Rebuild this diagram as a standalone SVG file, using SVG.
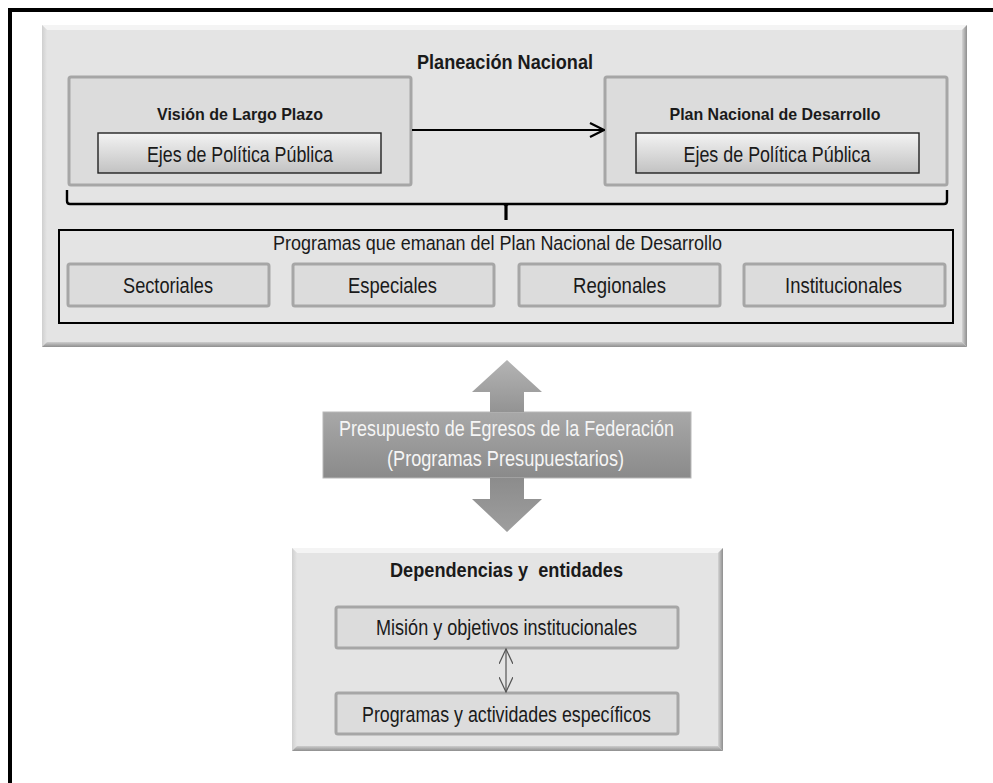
<svg xmlns="http://www.w3.org/2000/svg" width="993" height="783" viewBox="0 0 993 783">
  <defs>
    <linearGradient id="bevelR" x1="0" y1="0" x2="1" y2="0">
      <stop offset="0" stop-color="#d4d4d4"/>
      <stop offset="1" stop-color="#8e8e8e"/>
    </linearGradient>
    <linearGradient id="bevelB" x1="0" y1="0" x2="0" y2="1">
      <stop offset="0" stop-color="#cdcdcd"/>
      <stop offset="1" stop-color="#8e8e8e"/>
    </linearGradient>
    <linearGradient id="bevelL" x1="0" y1="0" x2="1" y2="0">
      <stop offset="0" stop-color="#cfcfcf"/>
      <stop offset="1" stop-color="#e4e4e4"/>
    </linearGradient>
    <linearGradient id="ejes" x1="0" y1="0" x2="0" y2="1">
      <stop offset="0" stop-color="#f3f3f3"/>
      <stop offset="1" stop-color="#c2c2c2"/>
    </linearGradient>
    <linearGradient id="blockUp" x1="0" y1="0" x2="0" y2="1">
      <stop offset="0" stop-color="#b4b4b4"/>
      <stop offset="1" stop-color="#939393"/>
    </linearGradient>
    <linearGradient id="blockDown" x1="0" y1="0" x2="0" y2="1">
      <stop offset="0" stop-color="#8c8c8c"/>
      <stop offset="1" stop-color="#9e9e9e"/>
    </linearGradient>
    <linearGradient id="budget" x1="0" y1="0" x2="0" y2="1">
      <stop offset="0" stop-color="#a8a8a8"/>
      <stop offset="1" stop-color="#8a8a8a"/>
    </linearGradient>
    <marker id="openHead" viewBox="0 0 16 16" refX="15" refY="8" markerWidth="16" markerHeight="16" markerUnits="userSpaceOnUse" orient="auto-start-reverse">
      <path d="M1,1 L15,8 L1,15" fill="none" stroke="#000" stroke-width="2.2" stroke-linejoin="miter"/>
    </marker>
    <marker id="thinHead" viewBox="0 0 16 14" refX="15" refY="7" markerWidth="16" markerHeight="14" markerUnits="userSpaceOnUse" orient="auto-start-reverse">
      <path d="M0,0 L15,7 L0,14" fill="none" stroke="#555" stroke-width="1.2"/>
    </marker>
  </defs>
  <style>
    text { font-family: "Liberation Sans Narrow", "Liberation Sans", Arial, sans-serif; fill: #1a1a1a; text-anchor: middle; }
    .title { font-weight: bold; }
    .panel { fill: #e4e4e4; }
    .bevelTop { fill: #f4f4f4; }
    .group { fill: #dcdcdc; stroke: #a6a6a6; stroke-width: 3; }
    .ejes { fill: url(#ejes); stroke: #222; stroke-width: 1.4; }
    .item { fill: #dcdcdc; stroke: #a6a6a6; stroke-width: 3; }
    .frame { fill: none; stroke: #000; stroke-width: 4; }
    .budgetText { fill: #f5f5f5; }
  </style>

  <rect width="993" height="783" fill="#ffffff"/>
  <!-- outer frame, running past the right and bottom edges -->
  <rect class="frame" x="10" y="10" width="1020" height="820"/>

  <!-- national planning panel -->
  <g id="planeacion-nacional">
    <rect class="panel" x="42" y="25" width="925" height="322"/>
    <polygon class="bevelTop" points="42,25 967,25 962,30 47,30"/>
    <polygon fill="url(#bevelL)" points="42,25 47,30 47,342 42,347"/>
    <polygon fill="url(#bevelR)" points="962,30 967,25 967,347 962,342"/>
    <polygon fill="url(#bevelB)" points="47,342 962,342 967,347 42,347"/>
    <text class="title" x="505" y="69" font-size="20" textLength="176" lengthAdjust="spacingAndGlyphs">Planeación Nacional</text>
  </g>

  <g id="vision-largo-plazo">
    <rect class="group" x="69" y="77" width="342" height="108" rx="2"/>
    <text class="title" x="240" y="120" font-size="17" textLength="166" lengthAdjust="spacingAndGlyphs">Visión de Largo Plazo</text>
    <rect class="ejes" x="98" y="133" width="283" height="40"/>
    <text x="240" y="162" font-size="21.5" textLength="186" lengthAdjust="spacingAndGlyphs">Ejes de Política Pública</text>
  </g>

  <g id="plan-nacional-desarrollo">
    <rect class="group" x="605" y="77" width="342" height="108" rx="2"/>
    <text class="title" x="775" y="120" font-size="17" textLength="211" lengthAdjust="spacingAndGlyphs">Plan Nacional de Desarrollo</text>
    <rect class="ejes" x="636" y="133" width="283" height="40"/>
    <text x="777" y="162" font-size="21.5" textLength="187" lengthAdjust="spacingAndGlyphs">Ejes de Política Pública</text>
  </g>

  <g id="programas-pnd">
    <rect x="59" y="230" width="894" height="93" fill="none" stroke="#000" stroke-width="2"/>
    <text x="497.5" y="250" font-size="20.5" textLength="449" lengthAdjust="spacingAndGlyphs">Programas que emanan del Plan Nacional de Desarrollo</text>
  </g>

  <g id="sectoriales">
    <rect class="item" x="68" y="264" width="201" height="42" rx="2"/>
    <text x="168" y="293" font-size="21.5" textLength="90" lengthAdjust="spacingAndGlyphs">Sectoriales</text>
  </g>
  <g id="especiales">
    <rect class="item" x="293" y="264" width="201" height="42" rx="2"/>
    <text x="392.5" y="293" font-size="21.5" textLength="89" lengthAdjust="spacingAndGlyphs">Especiales</text>
  </g>
  <g id="regionales">
    <rect class="item" x="519" y="264" width="201" height="42" rx="2"/>
    <text x="619.5" y="293" font-size="21.5" textLength="93" lengthAdjust="spacingAndGlyphs">Regionales</text>
  </g>
  <g id="institucionales">
    <rect class="item" x="744" y="264" width="201" height="42" rx="2"/>
    <text x="843.5" y="293" font-size="21.5" textLength="117" lengthAdjust="spacingAndGlyphs">Institucionales</text>
  </g>

  <g id="presupuesto-egresos">
    <rect x="323" y="412" width="368" height="66" fill="url(#budget)" stroke="#b8b8b8" stroke-width="1"/>
    <text class="budgetText" x="506.5" y="436" font-size="21.5" textLength="335" lengthAdjust="spacingAndGlyphs">Presupuesto de Egresos de la Federación</text>
    <text class="budgetText" x="505.5" y="466" font-size="21.5" textLength="237" lengthAdjust="spacingAndGlyphs">(Programas Presupuestarios)</text>
  </g>

  <!-- agencies panel -->
  <g id="dependencias-entidades">
    <rect class="panel" x="292" y="548" width="431" height="203"/>
    <polygon class="bevelTop" points="292,548 723,548 718,553 297,553"/>
    <polygon fill="url(#bevelL)" points="292,548 297,553 297,746 292,751"/>
    <polygon fill="url(#bevelR)" points="718,553 723,548 723,751 718,746"/>
    <polygon fill="url(#bevelB)" points="297,746 718,746 723,751 292,751"/>
    <text class="title" x="506.5" y="577" font-size="20" textLength="233" lengthAdjust="spacingAndGlyphs" xml:space="preserve">Dependencias y  entidades</text>
  </g>

  <g id="mision-objetivos">
    <rect class="item" x="336" y="607" width="342" height="41" rx="2"/>
    <text x="506.5" y="635" font-size="21.5" textLength="261" lengthAdjust="spacingAndGlyphs">Misión y objetivos institucionales</text>
  </g>

  <g id="programas-actividades">
    <rect class="item" x="336" y="693" width="342" height="41" rx="2"/>
    <text x="506.5" y="722" font-size="21.5" textLength="289" lengthAdjust="spacingAndGlyphs">Programas y actividades específicos</text>
  </g>

  <!-- connectors, drawn last so they sit above the panels -->
  <g id="connectors">
    <line x1="412" y1="130" x2="604" y2="130" stroke="#000" stroke-width="2.2" marker-end="url(#openHead)"/>
    <!-- brace gathering both plans -->
    <path d="M67,190 L67,201 Q67,204 70,204 L944,204 Q947,204 947,201 L947,190" fill="none" stroke="#000" stroke-width="2.4"/>
    <path d="M506,204 L506,220" fill="none" stroke="#000" stroke-width="3.2"/>
    <path d="M502,204 Q506,204.5 506,208 Q506,204.5 510,204 Z" fill="#000" stroke="#000" stroke-width="1"/>
    <!-- block arrows around the budget node -->
    <polygon fill="url(#blockUp)" points="507,360 542,392 524,392 524,412 490,412 490,392 472,392"/>
    <polygon fill="url(#blockDown)" points="490,478 524,478 524,499 542,499 507,532 472,499 490,499"/>
    <line x1="506" y1="649" x2="506" y2="692" stroke="#555" stroke-width="1.2" marker-start="url(#thinHead)" marker-end="url(#thinHead)"/>
  </g>
</svg>
